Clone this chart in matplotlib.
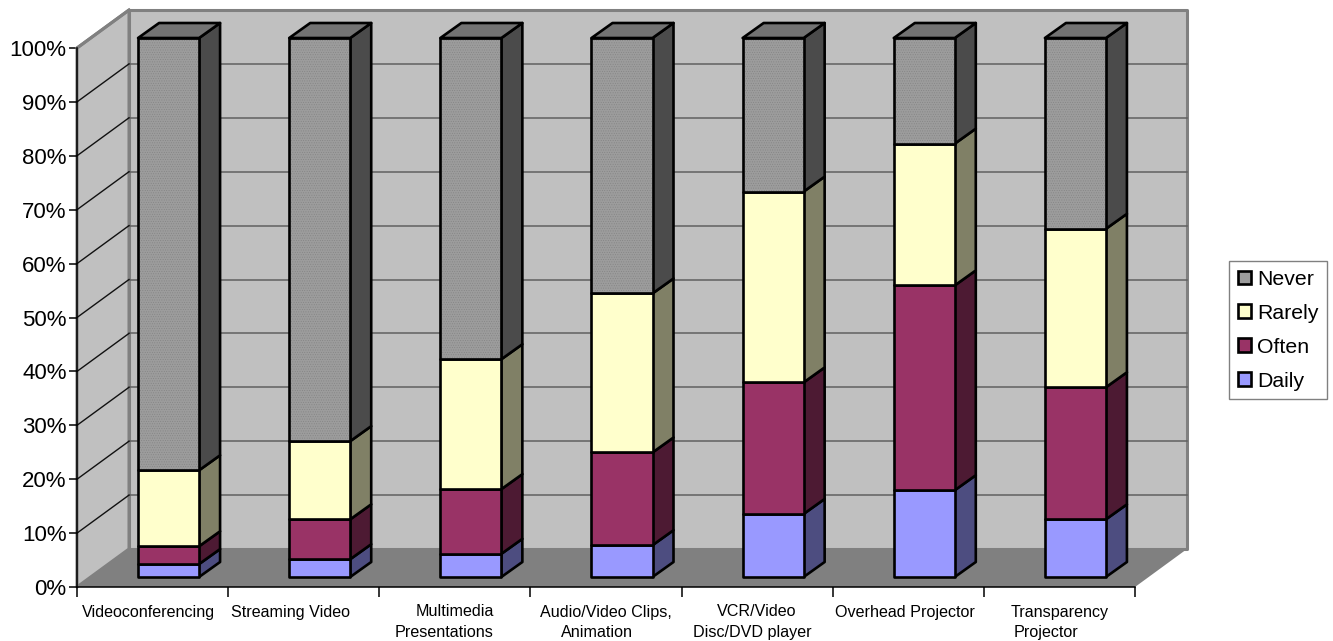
import matplotlib
matplotlib.use('Agg')
import matplotlib.pyplot as plt
from matplotlib.patches import Polygon, Patch

plt.rcParams['font.family'] = ['Liberation Sans', 'DejaVu Sans']
plt.rcParams['hatch.linewidth'] = 0.3

categories = ['Videoconferencing', 'Streaming Video', 'Multimedia\nPresentations',
              'Audio/Video Clips,\nAnimation', 'VCR/Video\nDisc/DVD player',
              'Overhead Projector', 'Transparency\nProjector']
daily = [2.4, 3.3, 4.3, 5.9, 11.7, 16.1, 10.7]
often = [3.3, 7.4, 12.0, 17.2, 24.4, 38.0, 24.5]
rarely = [14.1, 14.5, 24.1, 29.5, 35.4, 26.3, 29.4]
never = [80.2, 74.8, 59.6, 47.4, 28.5, 19.6, 35.4]
series_names = ['Daily', 'Often', 'Rarely', 'Never']
series_values = [daily, often, rarely, never]
y_ticks = list(range(0, 101, 10))

# front, side colours per series
front_colors = ['#9999ff', '#993366', '#ffffcc', '#9c9c9c']
side_colors = ['#4d4d80', '#4d1a33', '#808066', '#4b4b4b']
top_color = '#737373'

# the original labels are padded with spaces, so each line sits a bit off centre (pixels)
label_shift = [[-4], [-13], [0, -11], [0, -9], [0, -5], [-3], [0, -13]]

W, H = 1333, 641
fig = plt.figure(figsize=(W / 100, H / 100), dpi=100)
ax = fig.add_axes([77 / W, 1 - 587 / H, (1135 - 77) / W, (587 - 48) / H])
ax.set_xlim(0, 7)
ax.set_ylim(0, 100)

# 3d look: how far the back wall sits from the front plane
dx, dy = 52 / 151.14, 38 / 5.39
bar_dx, bar_dy = 21 / 151.14, 15 / 5.39
off_x, off_y = 16 / 151.14, 10 / 5.39
bar_w = 61 / 151.14


def poly(pts, fc, ec='none', lw=0, z=1, hatch=None):
    ax.add_patch(Polygon(pts, closed=True, facecolor=fc, edgecolor=ec, linewidth=lw,
                         zorder=z, clip_on=False, joinstyle='round', hatch=hatch))


# walls and floor
poly([(dx, dy), (7 + dx, dy), (7 + dx, 100 + dy), (dx, 100 + dy)], '#c0c0c0', '#808080', 2.2)
poly([(0, 0), (dx, dy), (dx, 100 + dy), (0, 100)], '#c0c0c0', '#808080', 2.2)
poly([(0, 0), (7, 0), (7 + dx, dy), (dx, dy)], '#808080')

for t in y_ticks[1:-1]:
    ax.plot([dx, 7 + dx], [t + dy, t + dy], color='#606060', lw=1.1, zorder=2, clip_on=False)
for t in y_ticks[1:]:
    ax.plot([0, dx], [t, t + dy], color='#111111' if t < 100 else '#808080',
            lw=1.0 if t < 100 else 2.2, zorder=2, clip_on=False)

# bars
for i in range(len(categories)):
    x0 = i + 0.5 - bar_w / 2 + off_x
    x1 = x0 + bar_w
    bottom = 0
    for k, values in enumerate(series_values):
        lo = bottom + off_y
        hi = bottom + values[i] + off_y
        z = 3 + k * 0.1
        front = [(x0, lo), (x1, lo), (x1, hi), (x0, hi)]
        poly([(x1, lo), (x1 + bar_dx, lo + bar_dy), (x1 + bar_dx, hi + bar_dy), (x1, hi)],
             side_colors[k], 'black', 1.9, z)
        if series_names[k] == 'Never':
            poly(front, front_colors[k], z=z + 0.02)
            poly(front, 'none', '#808080', 0, z + 0.03, hatch='.......')
            poly(front, 'none', 'black', 1.9, z + 0.05)
        else:
            poly(front, front_colors[k], 'black', 1.9, z + 0.05)
        bottom += values[i]
    hi = bottom + off_y
    poly([(x0, hi), (x1, hi), (x1 + bar_dx, hi + bar_dy), (x0 + bar_dx, hi + bar_dy)],
         top_color, 'black', 1.9, 4)

# axes
for s in ['top', 'right']:
    ax.spines[s].set_visible(False)
for s in ['left', 'bottom']:
    ax.spines[s].set_linewidth(1.1)
    ax.spines[s].set_zorder(5)
ax.set_yticks(y_ticks)
ax.set_yticklabels([f'{t}%' for t in y_ticks], fontsize=16)
ax.set_xticks(range(8))
ax.set_xticklabels([])
ax.tick_params(axis='y', length=6, width=1.1, pad=1.5)
ax.tick_params(axis='x', length=7, width=1.1)
ax.set_facecolor('none')

for i, name in enumerate(categories):
    for j, line in enumerate(name.split('\n')):
        ax.annotate(line, (i + 0.5, 0), xytext=(label_shift[i][j] * 0.72, -(18 + j * 15)),
                    textcoords='offset points', ha='center', va='center', fontsize=11.6,
                    annotation_clip=False)

handles = [Patch(facecolor=front_colors[k], edgecolor='black', linewidth=1.9, label=series_names[k])
           for k in range(3, -1, -1)]
fig.legend(handles=handles, loc='upper left', bbox_to_anchor=(1229 / W, 1 - 261 / H),
           bbox_transform=fig.transFigure, fontsize=15.3, frameon=True, fancybox=False,
           edgecolor='#808080', framealpha=1, handlelength=0.62, handleheight=0.62,
           handletextpad=0.28, labelspacing=0.7, borderpad=0.42, borderaxespad=0)

fig.savefig('out.png', dpi=100)
